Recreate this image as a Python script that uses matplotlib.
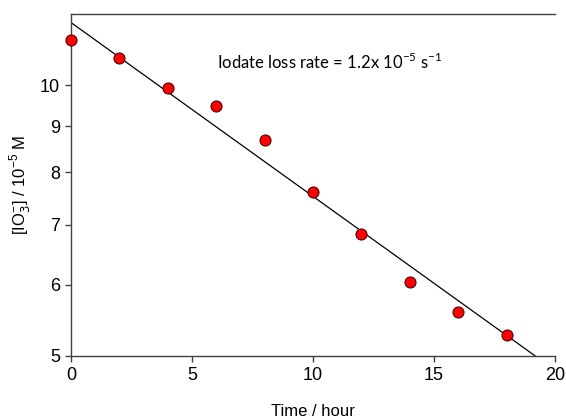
import numpy as np
import matplotlib
matplotlib.use("Agg")
from matplotlib import pyplot as plt
from matplotlib.ticker import FixedLocator, FixedFormatter, NullLocator

# measured iodate concentration (10^-5 M) vs time (hour)
time_h = [0, 2, 4, 6, 8, 10, 12, 14, 16, 18]
iodate = [11.23, 10.72, 9.94, 9.47, 8.70, 7.60, 6.84, 6.05, 5.59, 5.28]

# first-order fit
fit_c0 = 11.74          # 10^-5 M at t = 0
fit_rate = 1.236e-5     # s^-1

y_ticks = [5, 6, 7, 8, 9, 10]

plt.rcParams["font.family"] = ["Liberation Sans", "DejaVu Sans"]
edge = "#404040"

fig = plt.figure(figsize=(5.66, 4.2), dpi=100)
ax = fig.add_axes([0.1254, 0.1524, 0.8552, 0.8143])

t_line = np.linspace(0, 20, 200)
ax.plot(t_line, fit_c0 * np.exp(-fit_rate * 3600 * t_line),
        color="black", lw=0.9, zorder=2)
ax.plot(time_h, iodate, "o", color="#ff0000", markeredgecolor="#3a0000",
        markeredgewidth=0.7, markersize=8, zorder=3, clip_on=False)

ax.set_yscale("log")
ax.set_xlim(0, 20)
ax.set_ylim(5, 12)
ax.set_xticks([0, 5, 10, 15, 20])
ax.yaxis.set_major_locator(FixedLocator(y_ticks))
ax.yaxis.set_major_formatter(FixedFormatter([str(v) for v in y_ticks]))
ax.yaxis.set_minor_locator(NullLocator())

ax.spines["right"].set_visible(False)
for s in ("left", "bottom", "top"):
    ax.spines[s].set_color(edge)
    ax.spines[s].set_linewidth(1.0)
ax.tick_params(direction="out", length=4, width=1, color=edge,
               labelsize=13, pad=4)

ax.set_xlabel("Time / hour", fontsize=12, labelpad=14)
ax.set_ylabel(r"[IO$_3^{\mathregular{-}}$] / 10$^{\mathregular{-5}}$ M",
              fontsize=12, labelpad=5)

ax.text(0.301, 0.86,
        r"Iodate loss rate = 1.2x 10$^{\mathregular{-5}}$ s$^{\mathregular{-1}}$",
        transform=ax.transAxes, fontsize=12, family=["Lato", "DejaVu Sans"],
        ha="left", va="center")

fig.savefig("out.png", dpi=100)
